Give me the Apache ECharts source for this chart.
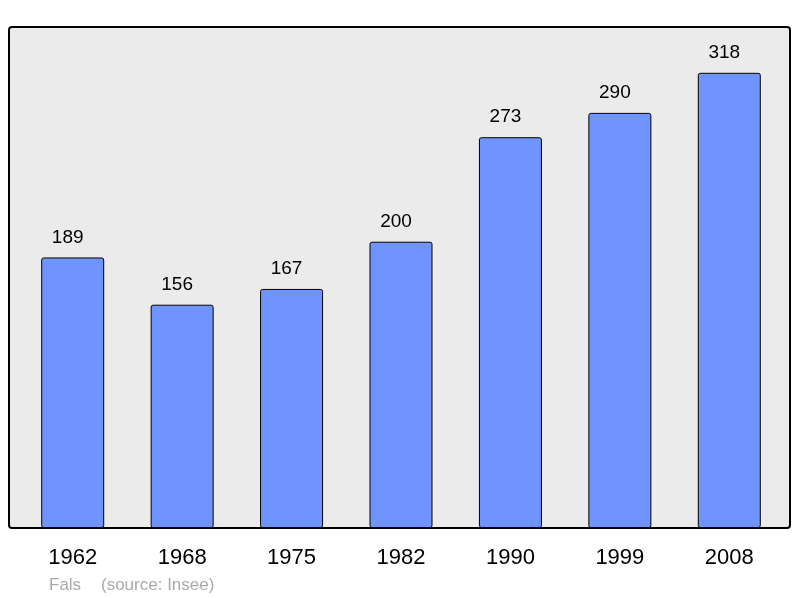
<!DOCTYPE html>
<html>
<head>
<meta charset="utf-8">
<script src="https://cdn.jsdelivr.net/npm/echarts@6/dist/echarts.min.js"></script>
<style>html,body{margin:0;padding:0;background:#fff;}#c{width:800px;height:598px;}</style>
</head>
<body>
<div id="c"></div>
<script>
var years = ['1962', '1968', '1975', '1982', '1990', '1999', '2008'];
var population = [189, 156, 167, 200, 273, 290, 318];
var footerName = 'Fals';
var footerSource = '(source: Insee)';

var chart = echarts.init(document.getElementById('c'), null, {renderer: 'canvas'});
chart.setOption({
  animation: false,
  backgroundColor: '#ffffff',
  title: [
    {text: footerName, left: 49, top: 577, padding: 0, textStyle: {color: '#aaaaaa', fontSize: 17, fontWeight: 'normal', fontFamily: 'Liberation Sans'}},
    {text: footerSource, left: 101, top: 577, padding: 0, textStyle: {color: '#aaaaaa', fontSize: 17, fontWeight: 'normal', fontFamily: 'Liberation Sans'}}
  ],
  graphic: [{
    type: 'rect', z: -10, silent: true,
    shape: {x: 9, y: 27, width: 781, height: 501, r: 3},
    style: {fill: '#ebebeb', stroke: '#000000', lineWidth: 2}
  }],
  grid: {left: 18, right: 16, top: 27, bottom: 70},
  xAxis: {
    type: 'category', data: years,
    axisLine: {show: false}, axisTick: {show: false},
    axisLabel: {color: '#000', fontSize: 22, margin: 19, fontFamily: 'Liberation Sans'}
  },
  yAxis: {
    type: 'value', min: 0, max: 350, show: false, splitLine: {show: false}
  },
  series: [{
    type: 'bar', data: population, barWidth: 63,
    itemStyle: {color: '#7094ff', borderColor: '#000000', borderWidth: 1, borderRadius: 2},
    label: {show: true, position: 'top', distance: 10.5, offset: [-5, 0], color: '#000', fontSize: 19, fontFamily: 'Liberation Sans'}
  }]
});
</script>
</body>
</html>
